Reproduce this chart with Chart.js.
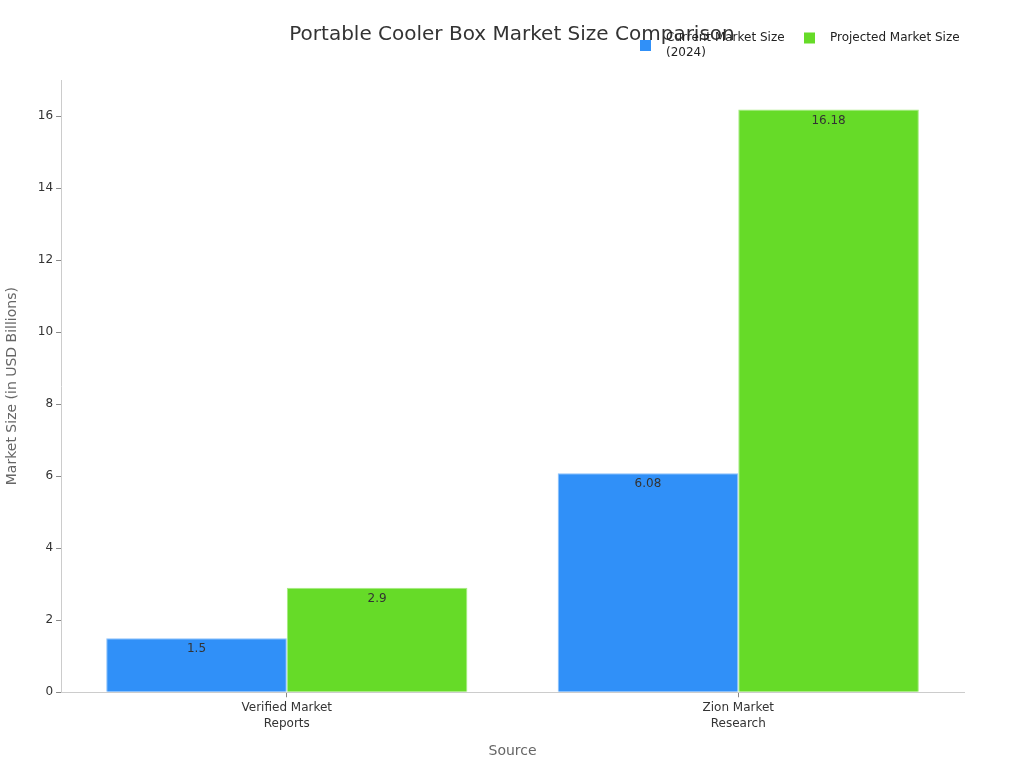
<!DOCTYPE html>
<html>
<head>
<meta charset="utf-8">
<script src="https://cdn.jsdelivr.net/npm/chart.js@4.4.1/dist/chart.umd.min.js"></script>
<style>
  html, body { margin: 0; padding: 0; background: #fff; }
  #wrap { width: 1024px; height: 768px; }
</style>
</head>
<body>
<div id="wrap"><canvas id="myBarChart" width="1024" height="768"></canvas></div>
<script>
const categories = [['Verified Market', 'Reports'], ['Zion Market', 'Research']];
const seriesNames = [['Current Market Size', '(2024)'], ['Projected Market Size']];
const currentSize = [1.5, 6.08];
const projectedSize = [2.9, 16.18];
const seriesColors = ['#3090f8', '#66db28'];
const seriesBorders = ['#8cc2fb', '#a6ec80'];

const FONT = "'DejaVu Sans', sans-serif";
Chart.defaults.font.family = FONT;

// value labels just under the top of every bar
const barLabels = {
  id: 'barLabels',
  afterDatasetsDraw(chart) {
    const c = chart.ctx;
    c.save();
    c.font = '12px ' + FONT;
    c.fillStyle = '#333';
    c.textAlign = 'center';
    c.textBaseline = 'middle';
    chart.data.datasets.forEach((ds, i) => {
      chart.getDatasetMeta(i).data.forEach((bar, j) => {
        c.fillText(String(ds.data[j]), bar.x, bar.y + 11);
      });
    });
    c.restore();
  }
};

// title + legend drawn by hand (legend overlaps the title in the original)
const header = {
  id: 'header',
  afterDraw(chart) {
    const c = chart.ctx;
    c.save();
    c.fillStyle = '#333';
    c.font = '20px ' + FONT;
    c.textAlign = 'center';
    c.textBaseline = 'middle';
    c.fillText('Portable Cooler Box Market Size Comparison', 512, 35);

    c.font = '12px ' + FONT;
    c.textAlign = 'left';
    const starts = [640, 804];
    seriesNames.forEach((lines, i) => {
      const x = starts[i];
      const top = 38;
      const mid = top + (lines.length - 1) * 7.5;
      c.fillStyle = seriesColors[i];
      c.fillRect(x, mid - 5.5, 11, 11);
      c.fillStyle = '#222';
      lines.forEach((t, k) => c.fillText(t, x + 26, top + k * 15));
    });
    c.restore();
  }
};

const data = {
  labels: categories,
  datasets: [
    { label: seriesNames[0].join(' '), data: currentSize,
      backgroundColor: seriesColors[0], borderColor: seriesBorders[0], borderWidth: 1 },
    { label: seriesNames[1].join(' '), data: projectedSize,
      backgroundColor: seriesColors[1], borderColor: seriesBorders[1], borderWidth: 1 }
  ]
};

const config = {
  type: 'bar',
  data: data,
  plugins: [barLabels, header],
  options: {
    responsive: false,
    animation: false,
    layout: { padding: { top: 80, right: 60, left: 0, bottom: 4 } },
    datasets: { bar: { categoryPercentage: 0.8, barPercentage: 1.0 } },
    plugins: {
      legend: { display: false },
      title: { display: false },
      tooltip: { enabled: false }
    },
    scales: {
      x: {
        grid: { display: true, drawOnChartArea: false, drawTicks: true, tickLength: 5, offset: false, color: '#888' },
        border: { display: true, color: '#ccc' },
        ticks: { color: '#333', font: { size: 12, lineHeight: 1.33 }, padding: 3, maxRotation: 0 },
        title: { display: true, text: 'Source', color: '#666', font: { size: 14 }, padding: { top: 8 } }
      },
      y: {
        min: 0,
        max: 17,
        afterBuildTicks(axis) {
          axis.ticks = [0, 2, 4, 6, 8, 10, 12, 14, 16].map(v => ({ value: v }));
        },
        grid: { display: true, drawOnChartArea: false, drawTicks: true, tickLength: 5, color: '#888' },
        border: { display: true, color: '#ccc' },
        ticks: { color: '#333', font: { size: 12 }, padding: 3 },
        title: { display: true, text: 'Market Size (in USD Billions)', color: '#666', font: { size: 14 }, padding: { bottom: 14 } }
      }
    }
  }
};

const barChart = new Chart(document.getElementById('myBarChart'), config);
</script>
</body>
</html>
